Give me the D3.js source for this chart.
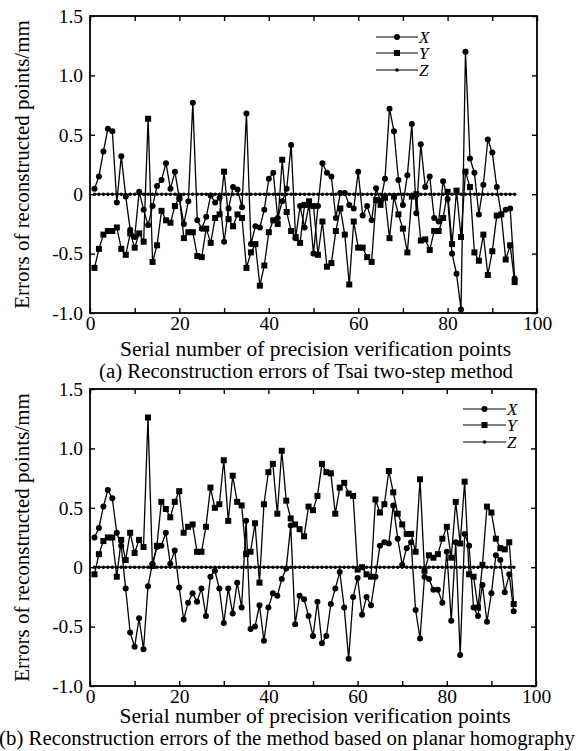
<!DOCTYPE html>
<html><head><meta charset="utf-8">
<script src="https://cdn.jsdelivr.net/npm/d3@7"></script>
<style>
html,body{margin:0;padding:0;background:#fff;}
svg{display:block;font-family:"Liberation Serif","Times New Roman",serif;}
</style></head>
<body><svg id="c" width="578" height="751"></svg>
<script>
// ---------- DATA ----------
const pointIds = [1,2,3,4,5,6,7,8,9,10,11,12,13,14,15,16,17,18,19,20,21,22,23,24,25,26,27,28,29,30,31,32,33,34,35,36,37,38,39,40,41,42,43,44,45,46,47,48,49,50,51,52,53,54,55,56,57,58,59,60,61,62,63,64,65,66,67,68,69,70,71,72,73,74,75,76,77,78,79,80,81,82,83,84,85,86,87,88,89,90,91,92,93,94,95];

const xTicks = [0,10,20,30,40,50,60,70,80,90,100];
const xTickLabels = ["0","","20","","40","","60","","80","","100"];
const yTicks = [-1,-0.5,0,0.5,1,1.5];
const yTickLabels = ["-1.0","-0.5","0","0.5","1.0","1.5"];
const seriesNames = ["X","Y","Z"];

// (a) Tsai two-step method
const tsaiX = [0.045,0.15,0.36,0.55,0.53,-0.07,0.32,-0.02,-0.30,-0.36,0.02,-0.13,-0.26,-0.10,0.07,0.12,0.26,0.045,0.19,-0.04,
  -0.25,-0.06,0.77,-0.22,-0.29,-0.19,-0.01,-0.07,-0.03,-0.40,-0.12,0.06,0.04,-0.11,0.68,-0.42,-0.27,-0.28,-0.13,0.13,
  0.18,-0.20,-0.06,0.045,0.415,-0.37,-0.10,-0.28,-0.09,-0.50,-0.10,0.26,0.18,0.15,-0.20,0.01,0.01,-0.09,-0.12,0.19,
  -0.18,-0.10,-0.22,0.05,-0.06,0.13,0.72,0.53,0.12,-0.09,0.16,0.59,-0.16,0.42,0.06,0.15,-0.20,-0.23,0.11,-0.04,
  -0.50,-0.67,-0.97,1.20,0.30,0.18,-0.17,0.08,0.46,0.35,0.06,-0.17,-0.13,-0.12,-0.71];
const tsaiY = [-0.62,-0.46,-0.34,-0.31,-0.31,-0.28,-0.46,-0.51,-0.33,-0.45,-0.33,-0.40,0.635,-0.57,-0.43,-0.14,-0.22,-0.24,-0.10,-0.02,
  -0.37,-0.32,-0.32,-0.52,-0.53,-0.29,-0.41,-0.20,-0.17,0.19,-0.21,-0.27,-0.17,-0.20,-0.62,-0.49,-0.42,-0.77,-0.60,-0.32,
  -0.22,-0.25,0.29,-0.15,-0.31,-0.36,-0.41,-0.09,-0.06,-0.10,-0.51,-0.23,-0.61,-0.58,-0.31,-0.12,-0.34,-0.76,-0.23,-0.45,
  -0.45,-0.53,-0.57,-0.05,-0.09,-0.03,-0.37,-0.02,-0.17,-0.29,-0.49,-0.02,0.00,-0.39,-0.38,-0.47,-0.31,-0.31,-0.20,0.02,
  -0.42,0.03,-0.36,0.19,0.06,-0.49,-0.56,-0.34,-0.68,-0.48,-0.18,-0.17,-0.55,-0.43,-0.74];
const tsaiZ = [0,0,0,0,0,0,0,0,0,0,0,0,0,0,0,0,0,0,0,0,0,0,0,0,0,0,0,0,0,0,0,0,0,0,0,0,0,0,0,0,0,0,0,0,0,0,0,0,
  0,0,0,0,0,0,0,0,0,0,0,0,0,0,0,0,0,0,0,0,0,0,0,0,0,0,0,0,0,0,0,0,0,0,0,0,0,0,0,0,0,0,0,0,0,0,0];

// (b) planar homography method
const homoX = [0.25,0.33,0.51,0.65,0.58,0.29,0.18,-0.18,-0.55,-0.67,-0.43,-0.69,-0.16,0.03,0.17,0.18,0.29,0.03,0.14,-0.17,
  -0.44,-0.30,-0.22,-0.29,-0.18,-0.41,-0.08,-0.03,-0.18,-0.47,-0.18,-0.39,-0.13,-0.34,0.39,-0.52,-0.50,-0.32,-0.62,-0.34,
  -0.22,-0.24,-0.10,-0.01,0.35,-0.48,-0.24,-0.27,-0.41,-0.58,-0.29,-0.64,-0.58,-0.31,-0.18,-0.04,-0.34,-0.77,-0.25,-0.09,
  -0.40,-0.25,-0.32,-0.08,0.18,0.21,0.20,0.52,0.24,0.02,0.16,0.21,-0.36,-0.60,-0.08,-0.10,-0.19,-0.19,-0.30,0.13,
  -0.45,0.21,-0.74,0.28,0.18,-0.34,-0.41,-0.15,-0.46,-0.22,0.10,0.06,-0.21,-0.06,-0.37];
const homoY = [-0.06,0.11,0.22,0.25,0.25,-0.08,0.23,0.06,0.29,0.12,0.23,0.17,1.26,0.01,0.18,0.55,0.49,0.42,0.55,0.64,
  0.29,0.34,0.36,0.13,0.13,0.34,0.67,0.50,0.53,0.90,0.39,0.77,0.55,0.52,0.11,0.13,0.37,-0.13,0.53,0.80,
  0.87,0.45,0.98,0.56,0.41,0.36,0.32,0.26,0.51,0.48,0.60,0.87,0.80,0.79,0.45,0.67,0.71,0.62,0.60,-0.02,
  0.00,-0.06,-0.08,0.57,0.46,0.53,0.81,0.63,0.45,0.36,0.28,0.28,0.13,0.74,-0.03,0.10,0.08,0.11,0.24,0.34,
  0.08,0.55,0.20,0.72,-0.06,-0.08,-0.34,0.02,0.51,0.46,0.24,0.16,0.15,0.21,-0.31];
const homoZ = [0,0,0,0,0,0,0,0,0,0,0,0,0,0,0,0,0,0,0,0,0,0,0,0,0,0,0,0,0,0,0,0,0,0,0,0,0,0,0,0,0,0,0,0,0,0,0,0,
  0,0,0,0,0,0,0,0,0,0,0,0,0,0,0,0,0,0,0,0,0,0,0,0,0,0,0,0,0,0,0,0,0,0,0,0,0,0,0,0,0,0,0,0,0,0,0];

const xTitle = "Serial number of precision verification points";
const yTitle = "Errors of reconstructed points/mm";
const captionA = "(a) Reconstruction errors of Tsai two-step method";
const captionB = "(b) Reconstruction errors of the method based on planar homography";

// ---------- DRAW ----------
const svg = d3.select("#c");

function drawPanel(cfg){
  const {left,right,top,bottom} = cfg;
  const x = d3.scaleLinear().domain([0,100]).range([left,right]);
  const y = d3.scaleLinear().domain([-1,1.5]).range([bottom,top]);
  const g = svg.append("g");

  const fmtX = d => xTickLabels[xTicks.indexOf(d)];
  const fmtY = d => yTickLabels[yTicks.indexOf(d)];

  const ax = [
    g.append("g").attr("transform",`translate(0,${bottom})`)
      .call(d3.axisBottom(x).tickValues(xTicks).tickFormat(fmtX).tickSizeInner(-5).tickSizeOuter(0).tickPadding(3)),
    g.append("g").attr("transform",`translate(0,${top})`)
      .call(d3.axisTop(x).tickValues(xTicks).tickFormat("").tickSizeInner(-5).tickSizeOuter(0)),
    g.append("g").attr("transform",`translate(${left},0)`)
      .call(d3.axisLeft(y).tickValues(yTicks).tickFormat(fmtY).tickSizeInner(-5).tickSizeOuter(0).tickPadding(7)),
    g.append("g").attr("transform",`translate(${right},0)`)
      .call(d3.axisRight(y).tickValues(yTicks).tickFormat("").tickSizeInner(-5).tickSizeOuter(0))
  ];
  ax.forEach(a=>{
    a.select(".domain").remove();
    a.selectAll("line").attr("stroke","#000").attr("stroke-width",1.4);
    a.selectAll("text").attr("font-family","Liberation Serif").attr("font-size",19.5).attr("fill","#000");
  });

  const line = d3.line().x((d,i)=>x(pointIds[i])).y(d=>y(d));
  const series = [
    {vals:cfg.X, mark:"circle"},
    {vals:cfg.Y, mark:"square"},
    {vals:cfg.Z, mark:"dot"}
  ];
  [series[2],series[0],series[1]].forEach(s=>{
    g.append("path").datum(s.vals).attr("d",line)
      .attr("fill","none").attr("stroke","#000").attr("stroke-width",1.3).attr("stroke-linejoin","round");
    drawMarks(g, s.vals.map((v,i)=>[x(pointIds[i]),y(v)]), s.mark);
  });

  g.append("rect").attr("x",left).attr("y",top).attr("width",right-left).attr("height",bottom-top)
    .attr("fill","none").attr("stroke","#000").attr("stroke-width",1.8);

  const lg = g.append("g");
  ["circle","square","dot"].forEach((m,k)=>{
    const ly = cfg.legendY[k];
    lg.append("line").attr("x1",cfg.legendX[0]).attr("x2",cfg.legendX[1]).attr("y1",ly).attr("y2",ly)
      .attr("stroke","#000").attr("stroke-width",1.2);
    drawMarks(lg, [[(cfg.legendX[0]+cfg.legendX[1])/2, ly]], m);
    lg.append("text").attr("x",cfg.legendX[1]+1).attr("y",ly+5.5)
      .attr("font-size",17).attr("font-style","italic").attr("font-family","Liberation Serif")
      .text(seriesNames[k]);
  });

  g.append("text").attr("x",(left+right)/2+2).attr("y",cfg.xTitleY).attr("text-anchor","middle")
    .attr("font-size",21.5).text(xTitle);
  g.append("text").attr("transform",`translate(${cfg.yTitleX},${(top+bottom)/2}) rotate(-90)`)
    .attr("text-anchor","middle").attr("font-size",21).text(yTitle);
  g.append("text").attr("x",cfg.capX).attr("y",cfg.capY).attr("text-anchor","middle")
    .attr("font-size",20.8).text(cfg.caption);
}

function drawMarks(g, pts, kind){
  if(kind==="circle"){
    g.selectAll(null).data(pts).enter().append("circle")
      .attr("cx",d=>d[0]).attr("cy",d=>d[1]).attr("r",3).attr("fill","#000");
  } else if(kind==="square"){
    g.selectAll(null).data(pts).enter().append("rect")
      .attr("x",d=>d[0]-3).attr("y",d=>d[1]-3).attr("width",6).attr("height",6).attr("fill","#000");
  } else {
    g.selectAll(null).data(pts).enter().append("circle")
      .attr("cx",d=>d[0]).attr("cy",d=>d[1]).attr("r",1.8).attr("fill","#000");
  }
}

drawPanel({left:90,right:537,top:16,bottom:313,X:tsaiX,Y:tsaiY,Z:tsaiZ,
  legendX:[376,418],legendY:[37,53,70],xTitleY:356,yTitleX:29,capX:306,capY:378,caption:captionA});
drawPanel({left:90,right:536,top:389,bottom:686,X:homoX,Y:homoY,Z:homoZ,
  legendX:[463,506],legendY:[409,425,442],xTitleY:723,yTitleX:29,capX:287,capY:745,caption:captionB});
</script></body></html>
